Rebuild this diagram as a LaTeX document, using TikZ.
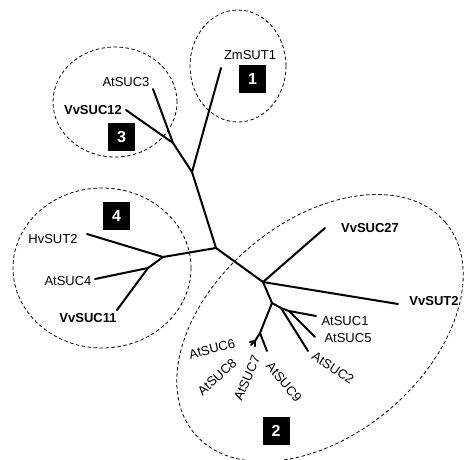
\documentclass[tikz,border=0pt]{standalone}
\usepackage{fontspec}
\setmainfont{Liberation Sans}
\usetikzlibrary{positioning}
\tikzset{
  treebranch/.style={line width=2pt,line cap=round,line join=round},
  treeleaf/.style={font=\fontsize{13}{13}\selectfont,inner sep=0pt},
  treeleafbold/.style={treeleaf,font=\bfseries\fontsize{13}{13}\selectfont},
  treeclade/.style={line width=0.8pt,dash pattern=on 3.5pt off 2.5pt},
  treebadge/.style={
    fill=black,
    text=white,
    font=\bfseries\fontsize{16}{16}\selectfont,
    minimum width=27pt,
    minimum height=28pt,
    inner sep=0pt
  }
}

\begin{document}
\begin{tikzpicture}[x=1pt,y=-1pt]
    \useasboundingbox (0,0) rectangle (465,459);
    % clade outlines
    \coordinate (ring1) at (238,66);
    \coordinate (ring2) at (320,328);
    \coordinate (ring3) at (115,102);
    \coordinate (ring4) at (102,268);
    \draw[treeclade] (ring1) ellipse [x radius=48pt,y radius=56pt];
    \draw[treeclade,rotate around={40:(ring2)}] (ring2) ellipse [x radius=164pt,y radius=107pt];
    \draw[treeclade] (ring3) ellipse [x radius=62pt,y radius=55pt];
    \draw[treeclade] (ring4) ellipse [x radius=89pt,y radius=80pt];
    % inner branch points
    \coordinate (root) at (216,248);
    \coordinate (upB) at (192,172);
    \coordinate (upA) at (173,143);
    \coordinate (leftD) at (163,257);
    \coordinate (leftE) at (148,268);
    \coordinate (rightF) at (263,282);
    \coordinate (rightG) at (272,303);
    \coordinate (rightH) at (281,308);
    \coordinate (rightK) at (289,311);
    \coordinate (rightI) at (260,333);
    \coordinate (rightJ) at (255,341);
    % leaf ends
    \coordinate (zmsut1) at (221,68);
    \coordinate (atsuc3) at (153,89);
    \coordinate (vvsuc12) at (126,110);
    \coordinate (hvsut2) at (87,234);
    \coordinate (atsuc4) at (95,279);
    \coordinate (vvsuc11) at (117,310);
    \coordinate (vvsuc27) at (325,228);
    \coordinate (vvsut2) at (398,304);
    \coordinate (atsuc1) at (316,316);
    \coordinate (atsuc5) at (315,337);
    \coordinate (atsuc2) at (308,351);
    \coordinate (atsuc9) at (267,351);
    \coordinate (atsuc6) at (250,342);
    \coordinate (atsuc8) at (251,345);
    \coordinate (atsuc7) at (255,346);
    % branches
    \draw[treebranch] (root) -- (upB);
    \draw[treebranch] (upB) -- (zmsut1);
    \draw[treebranch] (upB) -- (upA);
    \draw[treebranch] (upA) -- (atsuc3);
    \draw[treebranch] (upA) -- (vvsuc12);
    \draw[treebranch] (root) -- (leftD);
    \draw[treebranch] (leftD) -- (hvsut2);
    \draw[treebranch] (leftD) -- (leftE);
    \draw[treebranch] (leftE) -- (atsuc4);
    \draw[treebranch] (leftE) -- (vvsuc11);
    \draw[treebranch] (root) -- (rightF);
    \draw[treebranch] (rightF) -- (vvsuc27);
    \draw[treebranch] (rightF) -- (vvsut2);
    \draw[treebranch] (rightF) -- (rightG);
    \draw[treebranch] (rightG) -- (rightH);
    \draw[treebranch] (rightH) -- (rightK);
    \draw[treebranch] (rightK) -- (atsuc1);
    \draw[treebranch] (rightK) -- (atsuc5);
    \draw[treebranch] (rightH) -- (atsuc2);
    \draw[treebranch] (rightG) -- (rightI);
    \draw[treebranch] (rightI) -- (atsuc9);
    \draw[treebranch] (rightI) -- (rightJ);
    \draw[treebranch] (rightJ) -- (atsuc6);
    \draw[treebranch] (rightJ) -- (atsuc8);
    \draw[treebranch] (rightJ) -- (atsuc7);
    % leaf names
    \node[treeleaf] (lzmsut1) at (250,55) {ZmSUT1};
    \node[treeleaf] (latsuc3) at (126,82) {AtSUC3};
    \node[treeleafbold] (lvvsuc12) at (93,110) {VvSUC12};
    \node[treeleaf] (lhvsut2) at (53,239) {HvSUT2};
    \node[treeleaf] (latsuc4) at (68,281) {AtSUC4};
    \node[treeleafbold] (lvvsuc11) at (88,318) {VvSUC11};
    \node[treeleafbold] (lvvsuc27) at (370,228) {VvSUC27};
    \node[treeleafbold] (lvvsut2) at (434,301) {VvSUT2};
    \node[treeleaf] (latsuc1) at (345,321) {AtSUC1};
    \node[treeleaf] (latsuc5) at (348,338) {AtSUC5};
    \node[treeleaf,rotate=-33] (latsuc2) at (333,368) {AtSUC2};
    \node[treeleaf,rotate=-50] (latsuc9) at (284,382) {AtSUC9};
    \node[treeleaf,rotate=66] (latsuc7) at (247,378) {AtSUC7};
    \node[treeleaf,rotate=42] (latsuc8) at (217,377) {AtSUC8};
    \node[treeleaf,rotate=14] (latsuc6) at (212,349) {AtSUC6};
    % clade numbers
    \node[treebadge] (badge1) at (252.5,79) {1};
    \node[treebadge] (badge2) at (276,431) {2};
    \node[treebadge] (badge3) at (121.5,137) {3};
    \node[treebadge] (badge4) at (116.5,216) {4};
  \end{tikzpicture}
\end{document}
